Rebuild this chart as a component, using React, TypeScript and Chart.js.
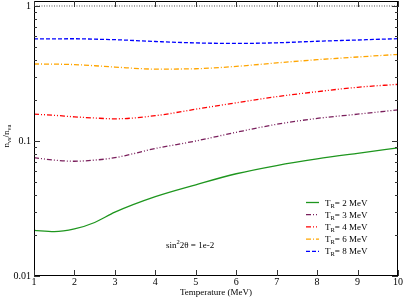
import React, { useEffect, useRef } from 'react';
import { Chart, registerables } from 'chart.js';

Chart.register(...registerables);

const temperature = [1, 1.5, 2, 2.5, 3, 4, 5, 6, 7, 8, 9, 10];
const ratioTR2 = [0.0218, 0.0213, 0.0223, 0.0249, 0.0297, 0.0387, 0.0474, 0.0572, 0.0658, 0.0737, 0.0811, 0.0888];
const ratioTR3 = [0.0752, 0.0722, 0.0708, 0.0722, 0.0752, 0.088, 0.1, 0.116, 0.133, 0.147, 0.158, 0.17];
const ratioTR4 = [0.158, 0.155, 0.151, 0.148, 0.146, 0.154, 0.172, 0.192, 0.213, 0.232, 0.25, 0.263];
const ratioTR6 = [0.372, 0.371, 0.368, 0.361, 0.353, 0.341, 0.343, 0.357, 0.379, 0.4, 0.419, 0.438];
const ratioTR8 = [0.57, 0.571, 0.572, 0.568, 0.563, 0.546, 0.533, 0.528, 0.534, 0.548, 0.56, 0.573];
const referenceX = [1, 10];
const referenceY = [1, 1];

const reheatLabels = ['2', '3', '4', '6', '8'];
const seriesColors = ['#1e961e', '#7a1f5c', '#ff0000', '#ffa500', '#0000ff'];
const seriesDashes: number[][] = [[], [5, 2, 1, 2, 1, 2], [5, 2, 1, 2, 1, 2], [5, 2, 1, 2], [4, 2]];

const xTickValues = [1, 2, 3, 4, 5, 6, 7, 8, 9, 10];
const yMajorTicks = [0.01, 0.1, 1];
const yMinorTicks = [0.02, 0.03, 0.04, 0.05, 0.06, 0.07, 0.08, 0.09, 0.2, 0.3, 0.4, 0.5, 0.6, 0.7, 0.8, 0.9];

const SERIF = '"Liberation Serif", "DejaVu Serif", serif';

type Seg = { text: string; size: number; dy?: number };

function drawRich(ctx: CanvasRenderingContext2D, x: number, y: number, segs: Seg[]) {
  let cx = x;
  for (const s of segs) {
    ctx.font = `${s.size}px ${SERIF}`;
    ctx.fillText(s.text, cx, y + (s.dy || 0));
    cx += ctx.measureText(s.text).width;
  }
  return cx;
}

function richWidth(ctx: CanvasRenderingContext2D, segs: Seg[]) {
  let w = 0;
  for (const s of segs) {
    ctx.font = `${s.size}px ${SERIF}`;
    w += ctx.measureText(s.text).width;
  }
  return w;
}

const decorPlugin = {
  id: 'decor',
  afterDatasetsDraw(chart: any) {
    const ctx: CanvasRenderingContext2D = chart.ctx;
    const { left, right, top, bottom } = chart.chartArea;
    const xs = chart.scales.x;
    const ys = chart.scales.y;
    ctx.save();
    // frame
    ctx.strokeStyle = '#000';
    ctx.lineWidth = 1;
    ctx.strokeRect(left + 0.5, top + 0.5, right - left - 1, bottom - top - 1);
    // ticks
    ctx.strokeStyle = '#333';
    ctx.beginPath();
    for (const v of xTickValues) {
      const px = Math.round(xs.getPixelForValue(v)) + 0.5;
      ctx.moveTo(px, bottom);
      ctx.lineTo(px, bottom - 6);
      ctx.moveTo(px, top);
      ctx.lineTo(px, top + 6);
    }
    for (const v of yMajorTicks) {
      const py = Math.round(ys.getPixelForValue(v)) + 0.5;
      ctx.moveTo(left, py);
      ctx.lineTo(left + 6, py);
      ctx.moveTo(right, py);
      ctx.lineTo(right - 6, py);
    }
    for (const v of yMinorTicks) {
      const py = Math.round(ys.getPixelForValue(v)) + 0.5;
      ctx.moveTo(left, py);
      ctx.lineTo(left + 3, py);
      ctx.moveTo(right, py);
      ctx.lineTo(right - 3, py);
    }
    ctx.stroke();

    // legend
    ctx.fillStyle = '#000';
    ctx.textBaseline = 'alphabetic';
    ctx.textAlign = 'left';
    const legendX = 306;
    const legendY0 = 202.5;
    const legendStep = 12.2;
    reheatLabels.forEach((lab, i) => {
      const yy = legendY0 + i * legendStep;
      ctx.save();
      ctx.strokeStyle = seriesColors[i];
      ctx.lineWidth = 1.3;
      ctx.setLineDash(seriesDashes[i]);
      ctx.beginPath();
      ctx.moveTo(legendX, yy);
      ctx.lineTo(legendX + 13, yy);
      ctx.stroke();
      ctx.restore();
      ctx.fillStyle = '#000';
      drawRich(ctx, 325, yy + 3, [
        { text: 'T', size: 9 },
        { text: 'R', size: 6.5, dy: 2 },
        { text: '= ' + lab + ' MeV', size: 9 },
      ]);
    });

    // annotation
    drawRich(ctx, 166, 248, [
      { text: 'sin', size: 9 },
      { text: '2', size: 6.5, dy: -4 },
      { text: '2\u03b8 = 1e-2', size: 9 },
    ]);

    // y title
    const segs: Seg[] = [
      { text: 'n', size: 9 },
      { text: '\u03bds', size: 6.5, dy: 2 },
      { text: '/n', size: 9 },
      { text: '\u03bda', size: 6.5, dy: 2 },
    ];
    const w = richWidth(ctx, segs);
    ctx.translate(8.5, 136);
    ctx.rotate(-Math.PI / 2);
    drawRich(ctx, -w / 2, 0, segs);
    ctx.restore();
  },
};

function pts(ys: number[]) {
  return temperature.map((t, i) => ({ x: t, y: ys[i] }));
}

export default function App() {
  const ref = useRef<HTMLCanvasElement>(null);
  useEffect(() => {
    document.body.style.margin = '0';
    const canvas = ref.current!;
    const series = [ratioTR2, ratioTR3, ratioTR4, ratioTR6, ratioTR8];
    const datasets: any[] = series.map((s, i) => ({
      label: 'T_R= ' + reheatLabels[i] + ' MeV',
      data: pts(s),
      borderColor: seriesColors[i],
      borderWidth: 1.3,
      borderDash: seriesDashes[i],
      pointRadius: 0,
      fill: false,
      cubicInterpolationMode: 'monotone',
    }));
    datasets.push({
      label: 'ref',
      data: referenceX.map((x, i) => ({ x, y: referenceY[i] })),
      borderColor: '#555',
      borderWidth: 1,
      borderDash: [1, 1.5],
      pointRadius: 0,
      fill: false,
    });
    const chart = new Chart(canvas, {
      type: 'line',
      data: { datasets },
      options: {
        animation: false,
        responsive: false,
        devicePixelRatio: 1,
        layout: { padding: { left: 0, right: 5, top: 1, bottom: 0 } },
        plugins: { legend: { display: false }, tooltip: { enabled: false } },
        scales: {
          x: {
            type: 'linear',
            min: 1,
            max: 10,
            afterBuildTicks: (s: any) => {
              s.ticks = xTickValues.map((v) => ({ value: v }));
            },
            afterFit: (s: any) => {
              s.height = 22;
              s.paddingLeft = 0;
              s.paddingRight = 0;
            },
            grid: { display: false, drawTicks: false },
            border: { display: false },
            ticks: {
              font: { family: SERIF, size: 10 },
              color: '#000',
              padding: 0,
              maxRotation: 0,
              autoSkip: false,
            },
            title: {
              display: true,
              text: 'Temperature (MeV)',
              font: { family: SERIF, size: 9 },
              color: '#000',
              padding: 0,
            },
          },
          y: {
            type: 'logarithmic',
            min: 0.01,
            max: 1.089,
            afterBuildTicks: (s: any) => {
              s.ticks = yMajorTicks.map((v) => ({ value: v }));
            },
            afterFit: (s: any) => {
              s.width = 34;
              s.paddingTop = 0;
              s.paddingBottom = 0;
            },
            grid: { display: false, drawTicks: false },
            border: { display: false },
            ticks: {
              font: { family: SERIF, size: 10 },
              color: '#000',
              padding: 3,
              autoSkip: false,
              callback: (v: any) => String(v),
            },
          },
        },
      },
      plugins: [decorPlugin],
    });
    return () => chart.destroy();
  }, []);
  return <canvas ref={ref} width={403} height={298} style={{ display: 'block' }} />;
}
